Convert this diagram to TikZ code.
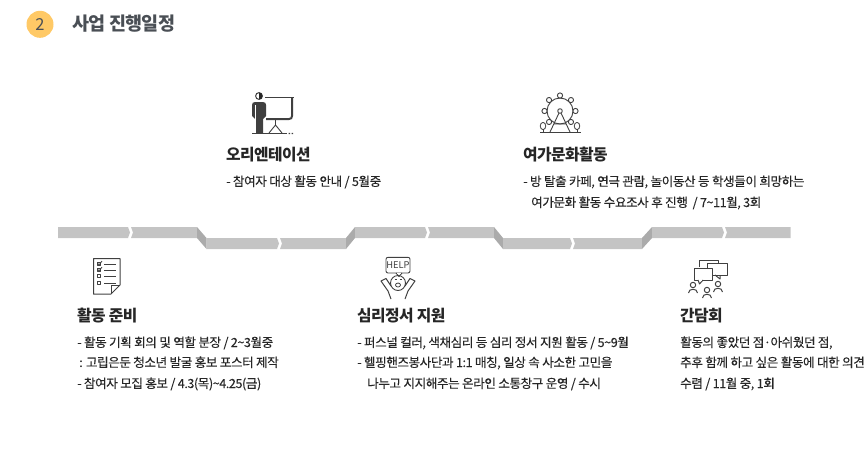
\documentclass[tikz,border=0pt]{standalone}
\usepackage{fontspec}
\usetikzlibrary{calc}
\setmainfont{Noto Sans CJK KR}
\newfontfamily\kr[LetterSpace=-3.5,FakeBold=0.15]{Noto Sans CJK KR}
\newfontfamily\krb[LetterSpace=-3.5]{Noto Sans CJK KR}
\newfontfamily\krh[LetterSpace=-3.5]{Noto Sans CJK KR}
\definecolor{bandc}{HTML}{C4C4C4}
\definecolor{bandd}{HTML}{ABABAB}
\definecolor{txt}{HTML}{262626}
\definecolor{ico}{HTML}{404040}
\definecolor{ttl}{HTML}{4A4F55}
\definecolor{badge}{HTML}{FFC966}
\tikzset{
 body/.style={anchor=base west,inner sep=0pt,text=txt,font=\fontsize{12.6}{14}\kr},
 head/.style={anchor=base west,inner sep=0pt,text=txt,font=\fontsize{15.8}{18}\krb\bfseries},
 band/.style={fill=bandc,draw=none},
 bandfold/.style={fill=bandd,draw=none},
 icon/.style={draw=ico,line width=1.1pt,fill=none,line join=round},
}
\begin{document}
\begin{tikzpicture}[x=1pt,y=-1pt]
\useasboundingbox (0,0) rectangle (866,469);
% title
\node[circle,fill=badge,minimum size=27pt,inner sep=0pt,text=ttl,font=\fontsize{16.5}{18}\selectfont] (num) at (40,24.3) {2};
\node[anchor=base west,inner sep=0pt,text=ttl,font=\fontsize{18.5}{20}\krh\bfseries] (title) at (72,30.5) {사업 진행일정};
% band
\fill[band] (58,227) -- (128,227) -- (130,232.5) -- (128,238) -- (58,238) -- cycle;
\fill[band] (131,227) -- (197,227) -- (197,238) -- (131,238) -- (133,232.5) -- cycle;
\fill[bandfold] (197,227) -- (206.5,238) -- (206.5,249) -- (197,238) -- cycle;
\fill[band] (206.5,238) -- (277,238) -- (279,243.5) -- (277,249) -- (206.5,249) -- cycle;
\fill[band] (280,238) -- (346,238) -- (346,249) -- (280,249) -- (282,243.5) -- cycle;
\fill[bandfold] (346,238) -- (355,227) -- (355,238) -- (346,249) -- cycle;
\fill[band] (355,227) -- (425,227) -- (427,232.5) -- (425,238) -- (355,238) -- cycle;
\fill[band] (428,227) -- (494,227) -- (494,238) -- (428,238) -- (430,232.5) -- cycle;
\fill[bandfold] (494,227) -- (503,238) -- (503,249) -- (494,238) -- cycle;
\fill[band] (503,238) -- (570,238) -- (572,243.5) -- (570,249) -- (503,249) -- cycle;
\fill[band] (573,238) -- (642,238) -- (642,249) -- (573,249) -- (575,243.5) -- cycle;
\fill[bandfold] (642,238) -- (652,227) -- (652,238) -- (642,249) -- cycle;
\fill[band] (652,227) -- (722,227) -- (724,232.5) -- (722,238) -- (652,238) -- cycle;
\fill[band] (725,227) -- (790.5,227) -- (790.5,238) -- (725,238) -- (727,232.5) -- cycle;
% presenter icon
\draw[ico,line width=1pt,fill=white] (259,96) circle (3.4);
\fill[black!85] (259,92.6) arc (-90:90:3.4) -- cycle;
\fill[ico] (255,102) -- (263,102) .. controls (265,102) and (266,103) .. (266,105) -- (266,116) -- (263,119) -- (263,133) -- (255,133) -- (255,119) -- (252,116) -- (252,105) .. controls (252,103) and (253,102) .. (255,102) -- cycle;
\draw[white,line width=1.6pt] (255.5,105) -- (255.5,133);
\draw[ico,line width=1.1pt] (252,133.5) -- (287,133.5);
\draw[ico,line width=1pt] (265,97) -- (294,97);
\draw[ico,line width=2pt] (292,97) -- (292,116) .. controls (292,118) and (291,119) .. (289,119) -- (266,119);
\draw[ico,line width=.9pt] (275.5,120) -- (275.5,126) (269,133) -- (275.5,125) -- (282,133);
\fill[ico] (288.5,132.9) rectangle (290,134) (291.5,132.9) rectangle (293,134);
% ferris wheel icon
\draw[icon,line width=.9pt] (560,111) circle (13);
\draw[icon,line width=.9pt] (560,111) circle (2.3);
\foreach \a in {-90,-135,-45,180,0,135,45} {\draw[icon,line width=.9pt,fill=white] ($(560,111)+(\a:15.5)$) circle (2.6);}
\draw[ico,line width=.9pt] (550,132) -- (559,113) (570,132) -- (561,113) (554,124) -- (566,124);
\draw[ico,line width=1.2pt] (540,132.5) -- (581,132.5);
\draw[icon,line width=.8pt,fill=white] (543,126) ellipse (2.8 and 3.6) (577,126) ellipse (2.8 and 3.6);
\draw[ico,line width=.8pt] (543,129) -- (543,132) (577,129) -- (577,132);
% checklist icon
\draw[icon,line width=1pt] (93.5,258.5) -- (120,258.5) -- (120,285) -- (111,294) -- (93.5,294) -- cycle;
\draw[icon,line width=.9pt] (120,285) -- (111,285) -- (111,294);
\foreach \y in {262,268,274,281} {\draw[icon,line width=.8pt] (97,\y) rectangle +(3.8,3.5); \draw[icon,line width=.9pt] (104,{\y+2}) -- (116,{\y+2});}
\draw[ico,line width=.8pt] (98,263.5) -- (99,265) -- (102,261) (98,269.5) -- (99,271) -- (102,267);
% help icon
\draw[icon,line width=.9pt,rounded corners=2pt] (386,257.3) rectangle (410,273);
\draw[icon,line width=.9pt,fill=white] (396,273) -- (399,276.5) -- (402,273);
\draw[white,line width=1pt] (396.8,273) -- (401.2,273);
\node[inner sep=0pt,text=ico,font=\fontsize{9.3}{10}\selectfont] (help) at (398,265) {HELP};
\draw[icon,line width=.9pt] (398,283) circle (7.5);
\draw[icon,line width=.8pt] (394.5,279.5) -- (396.5,279.5) (399.5,279.5) -- (401.5,279.5);
\draw[icon,line width=.8pt] (398,285) ellipse (2.5 and 2);
\draw[icon,line width=1pt] (391,299) -- (388,291) -- (381,281) -- (386,278.5) -- (391,286);
\draw[icon,line width=1pt] (405,299) -- (408,291) -- (415,281) -- (410,278.5) -- (405,286);
% talk icon
\draw[icon,line width=1pt] (699,267) -- (699,260) -- (718,260) -- (718,263);
\draw[icon,line width=1pt] (707,263) rectangle (727,275);
\draw[icon,line width=1pt,fill=white] (694,268) rectangle (712,280);
\draw[icon,line width=1pt,fill=white] (698,280) -- (699.5,284) -- (703,280);
\draw[white,line width=1pt] (698.8,280) -- (702.2,280);
\draw[icon,line width=1pt] (715,275) -- (720,279) -- (720,275);
\foreach \x/\y in {693/285,707/290,718/284} {
 \draw[icon,line width=1pt] (\x,\y) circle (2.7);
 \draw[icon,line width=1pt] ({\x-4.5},{\y+8}) .. controls ({\x-4.5},{\y+3}) and ({\x+4.5},{\y+3}) .. ({\x+4.5},{\y+8});
}
% top left
\node[head] (h1) at (226,160) {오리엔테이션};
\node[body] (t1) at (226,186) {- 참여자 대상 활동 안내 / 5월중};
% top right
\node[head] (h2) at (523,160) {여가문화활동};
\node[body] (t2a) at (523,186) {- 방 탈출 카페, 연극 관람, 놀이동산 등 학생들이 희망하는};
\node[body] (t2b) at (531,207) {여가문화 활동 수요조사 후 진행 \ / 7\textasciitilde11월, 3회};
% bottom 1
\node[head] (h3) at (77,321) {활동 준비};
\node[body] (t3a) at (77,347) {- 활동 기획 회의 및 역할 분장 / 2\textasciitilde3월중};
\node[body] (t3b) at (79,367) {: 고립은둔 청소년 발굴 홍보 포스터 제작};
\node[body] (t3c) at (77,388) {- 참여자 모집 홍보 / 4.3(목)\textasciitilde4.25(금)};
% bottom 2
\node[head] (h4) at (357,321) {심리정서 지원};
\node[body] (t4a) at (357,347) {- 퍼스널 컬러, 색채심리 등 심리 정서 지원 활동 / 5\textasciitilde9월};
\node[body] (t4b) at (357,367) {- 헬핑핸즈봉사단과 1:1 매칭, 일상 속 사소한 고민을};
\node[body] (t4c) at (367,388) {나누고 지지해주는 온라인 소통창구 운영 / 수시};
% bottom 3
\node[head] (h5) at (680,321) {간담회};
\node[body] (t5a) at (680,347) {활동의 좋았던 점·아쉬웠던 점,};
\node[body] (t5b) at (680,367) {추후 함께 하고 싶은 활동에 대한 의견};
\node[body] (t5c) at (680,388) {수렴 / 11월 중, 1회};
\end{tikzpicture}
\end{document}
